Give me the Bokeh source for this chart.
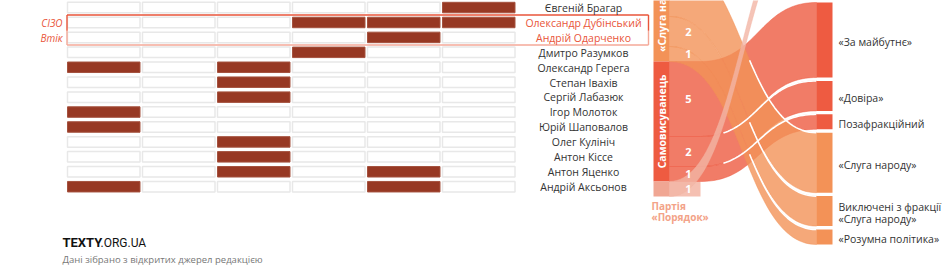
import numpy as np
from bokeh.plotting import figure
from bokeh.models import Range1d
from bokeh.embed import file_html
from bokeh.resources import INLINE
from bokeh.core.properties import value

# ---------------- data ----------------
names = ["Євгеній Брагар", "Олександр Дубінський", "Андрій Одарченко", "Дмитро Разумков",
         "Олександр Герега", "Степан Івахів", "Сергій Лабазюк", "Ігор Молоток",
         "Юрій Шаповалов", "Олег Кулініч", "Антон Кіссе", "Антон Яценко", "Андрій Аксьонов"]
filled_cols = [[5], [3, 4, 5], [4], [3], [0, 2], [2], [2], [0], [0], [2], [2], [2, 4], [0, 4]]
n_cols = 6
highlight_rows = [1, 2]
highlight_labels = ["СІЗО", "Втік"]

left_nodes = ["«Слуга народу»", "Самовисуванець", "Партія «Порядок»"]
right_nodes = ["«За майбутнє»", "«Довіра»", "Позафракційний", "«Слуга народу»",
               "Виключені з фракції\n«Слуга народу»", "«Розумна політика»"]
link_source = [0, 0, 0, 1, 1, 1, 2]
link_target = [3, 4, 5, 0, 1, 2, -1]   # -1: node outside the visible crop
link_value = [4, 2, 1, 5, 2, 1, 1]

# ---------------- layout / style ----------------
W, H = 944, 270
GRID_X0, COL_PITCH, CELL_W = 67, 75, 72.5
ROW_Y0, ROW_PITCH, CELL_H = 1.8, 14.93, 10.5
NAME_X = 583
FILL_DARK = "#973823"
HL_RED = "#e9553a"
HL_PINK = "#f4a898"

LX0, LX1, STRIP_X = 653, 669, 700
RX0, RX1 = 816, 832
UNIT = 15
LEFT_TOP = -44
RIGHT_TOP, RIGHT_GAP = 2, 3.4
OUT_TOP = -102
LINK_START = [669, 700, 669]
WHITE_FROM = [0.55, 0.15, 1.0]
LEFT_COLORS = ["#f39257", "#ee5b41", "#f0a693"]
LINK_COLORS = ["#f39257", "#ee5b41", "#f3b5a5"]
RIGHT_COLORS = ["#ee5b41", "#ee5b41", "#ee5b41", "#f39257", "#f39257", "#f39257"]

FONT = "Open Sans"

p = figure(width=W, height=H, x_range=Range1d(0, W), y_range=Range1d(H, 0),
           output_backend="svg", toolbar_location=None, min_border=0,
           x_axis_location=None, y_axis_location=None)
p.grid.visible = False
p.outline_line_color = None
p.background_fill_color = "white"
p.border_fill_color = "white"

# ---------------- grid ----------------
el, er, et, eb, fl, fr, ft, fb = [], [], [], [], [], [], [], []
for r, cols in enumerate(filled_cols):
    top = ROW_Y0 + r * ROW_PITCH
    for c in range(n_cols):
        left = GRID_X0 + c * COL_PITCH
        if c in cols:
            fl.append(left); fr.append(left + CELL_W); ft.append(top); fb.append(top + CELL_H)
        else:
            el.append(left); er.append(left + CELL_W); et.append(top); eb.append(top + CELL_H)
p.quad(left=el, right=er, top=et, bottom=eb, fill_color="white", line_color="#e8e8e8", line_width=1.5)
p.quad(left=fl, right=fr, top=ft, bottom=fb, fill_color=FILL_DARK, line_color="#a5523f", line_width=1)

# highlight frame
r0, r1 = highlight_rows
y_top = ROW_Y0 + r0 * ROW_PITCH - 2.3
y_mid = ROW_Y0 + r1 * ROW_PITCH - 1.5
y_bot = ROW_Y0 + r1 * ROW_PITCH + CELL_H + 2.3
x_l, x_r = GRID_X0 - 0.5, 648
p.segment(x0=[x_l, x_r, x_l], y0=[y_mid, y_mid, y_bot], x1=[x_l, x_r, x_r], y1=[y_bot, y_bot, y_bot],
          line_color=HL_PINK, line_width=1.4)
p.segment(x0=[x_l, x_l, x_r], y0=[y_top, y_top, y_top], x1=[x_r, x_l, x_r], y1=[y_top, y_mid, y_mid],
          line_color=HL_RED, line_width=1.4)

# names
row_c = [ROW_Y0 + r * ROW_PITCH + CELL_H / 2 + 0.3 for r in range(len(names))]
ncol = [HL_RED if r in highlight_rows else "#333333" for r in range(len(names))]
p.text(x=[NAME_X] * len(names), y=row_c, text=names, text_color=ncol, text_font=value(FONT),
       text_font_size="10.5px", text_align="center", text_baseline="middle")
p.text(x=[62] * 2, y=[row_c[r] for r in highlight_rows], text=highlight_labels, text_color=HL_RED,
       text_font=value(FONT), text_font_size="10px", text_font_style="italic",
       text_align="right", text_baseline="middle")

# ---------------- sankey ----------------
def bez(x0, y0, x1, y1, n=60):
    t = np.linspace(0, 1, n)
    xm = (x0 + x1) / 2
    x = (1 - t) ** 3 * x0 + 3 * (1 - t) ** 2 * t * xm + 3 * (1 - t) * t ** 2 * xm + t ** 3 * x1
    y = (1 - t) ** 3 * y0 + 3 * (1 - t) ** 2 * t * y0 + 3 * (1 - t) * t ** 2 * y1 + t ** 3 * y1
    return x, y

left_vals = [sum(v for s, v in zip(link_source, link_value) if s == i) for i in range(len(left_nodes))]
right_vals = [sum(v for t, v in zip(link_target, link_value) if t == j) for j in range(len(right_nodes))]
left_y = []
y = LEFT_TOP
for v in left_vals:
    left_y.append((y, y + v * UNIT)); y += v * UNIT
right_y = []
y = RIGHT_TOP
for v in right_vals:
    right_y.append((y, y + v * UNIT)); y += v * UNIT + RIGHT_GAP

src_off = [a for a, b in left_y]
tgt_off = [a for a, b in right_y]
out_off = OUT_TOP
links = []
order = sorted(range(len(link_value)), key=lambda i: (link_source[i], link_target[i]))
for i in order:
    s, t, v = link_source[i], link_target[i], link_value[i]
    sy0 = src_off[s]; src_off[s] += v * UNIT
    if t >= 0:
        ty0 = tgt_off[t]; tgt_off[t] += v * UNIT
    else:
        ty0 = out_off; out_off += v * UNIT
    links.append((i, s, t, v, sy0, sy0 + v * UNIT, ty0, ty0 + v * UNIT))

draw_order = [l for l in links if l[1] == 1] + [l for l in links if l[1] == 0] + [l for l in links if l[1] == 2]
for (i, s, t, v, sy0, sy1, ty0, ty1) in draw_order:
    if s == 2:
        p.quad(left=[LX1], right=[STRIP_X], top=[sy0], bottom=[sy1], fill_color=LINK_COLORS[s],
               fill_alpha=0.85, line_color=None)
for (i, s, t, v, sy0, sy1, ty0, ty1) in draw_order:
    xs0 = LINK_START[s]
    tx, tyv = bez(xs0, sy0, RX0, ty0)
    bx, byv = bez(xs0, sy1, RX0, ty1)
    px = [LX1] + list(tx) + list(bx[::-1]) + [LX1]
    py = [sy0] + list(tyv) + list(byv[::-1]) + [sy1]
    p.patch(px, py, fill_color=LINK_COLORS[s], fill_alpha=0.8, line_color=LINK_COLORS[s],
            line_alpha=0.6, line_width=0.8)
# white top edges near the targets
for (i, s, t, v, sy0, sy1, ty0, ty1) in draw_order:
    if t <= 0:
        continue
    xs0 = LINK_START[s]
    tx, tyv = bez(xs0, sy0, RX0, ty0)
    k = int(len(tx) * WHITE_FROM[s])
    if k < len(tx) - 1:
        p.line(tx[k:], tyv[k:], line_color="white", line_width=1.6)

# nodes
p.quad(left=[LX0] * 3, right=[LX1] * 3, top=[a for a, b in left_y], bottom=[b for a, b in left_y],
       fill_color=LEFT_COLORS, line_color=None)
p.quad(left=[RX0] * len(right_nodes), right=[RX1] * len(right_nodes), top=[a for a, b in right_y],
       bottom=[b for a, b in right_y], fill_color=RIGHT_COLORS, line_color=None)

# band numbers (only those inside the visible crop)
vis = [l for l in links if (l[4] + l[5]) / 2 > 6]
p.text(x=[688] * len(vis), y=[(l[4] + l[5]) / 2 for l in vis], text=[str(l[3]) for l in vis],
       text_color="white", text_font=value(FONT), text_font_size="11px", text_font_style="bold",
       text_align="center", text_baseline="middle")

# vertical left labels
p.text(x=[(LX0 + LX1) / 2 + 0.5] * 2, y=[(a + b) / 2 for a, b in left_y[:2]], text=left_nodes[:2],
       angle=np.pi / 2, text_color="white", text_font=value(FONT), text_font_size="10.5px",
       text_font_style="bold", text_align="center", text_baseline="middle")
por = left_nodes[2].split(" ")
p.text(x=[651] * 2, y=[left_y[2][1] + 9 + k * 11 for k in range(2)], text=por,
       text_color="#f3a388", text_font=value(FONT), text_font_size="10px", text_font_style="bold",
       text_align="left", text_baseline="middle")

# right labels
rx, ry, rt = [], [], []
for j, lab in enumerate(right_nodes):
    lines = lab.split("\n")
    c = (right_y[j][0] + right_y[j][1]) / 2 + 2
    for k, ln in enumerate(lines):
        rx.append(RX1 + 6); ry.append(c + (k - (len(lines) - 1) / 2) * 12.5); rt.append(ln)
p.text(x=rx, y=ry, text=rt, text_color="#333333", text_font=value(FONT), text_font_size="10.5px",
       text_align="left", text_baseline="middle")

# footer
p.text(x=[62], y=[242], text=["TEXTY"], text_color="#111111", text_font=value("Roboto"),
       text_font_size="13px", text_font_style="bold", text_baseline="middle")
p.text(x=[100], y=[242], text=[".ORG.UA"], text_color="#111111", text_font=value("Roboto"),
       text_font_size="12px", text_baseline="middle")
p.text(x=[62], y=[259], text=["Дані зібрано з відкритих джерел редакцією"], text_color="#777777",
       text_font=value(FONT), text_font_size="9.5px", text_baseline="middle")

open("out.html", "w").write(file_html(p, INLINE))
